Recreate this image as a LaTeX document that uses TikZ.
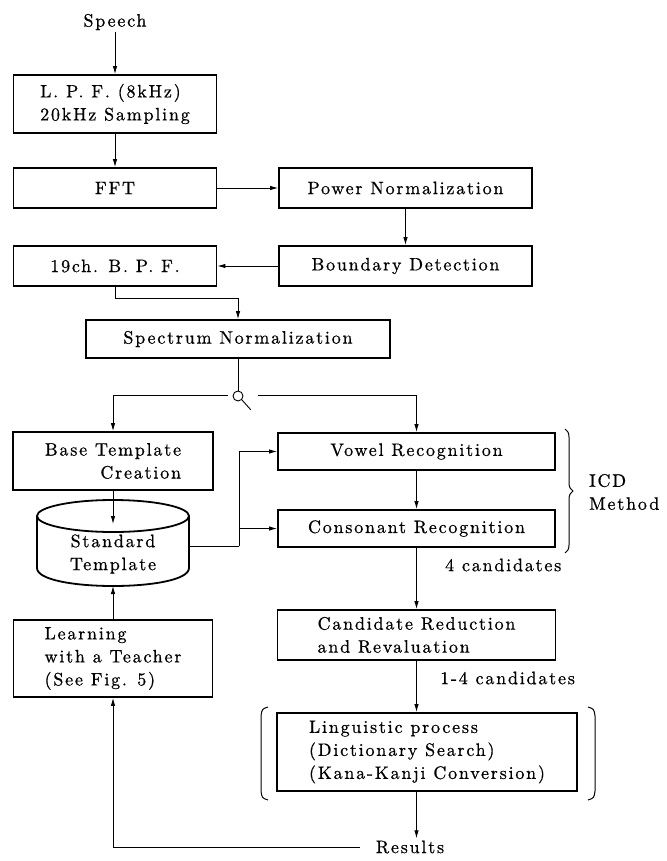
\documentclass[tikz,border=0pt]{standalone}
\usepackage{fontspec}
\newfontfamily\lmsp{lmroman10-regular.otf}[LetterSpace=10,FakeBold=0.7]
\usetikzlibrary{arrows.meta,decorations.pathreplacing}
\begin{document}
\begin{tikzpicture}[x=1pt,y=-1pt,
  txt/.style={font=\lmsp\fontsize{18}{23}\selectfont, inner sep=2pt},
  box/.style={txt, draw, line width=1.8pt, inner sep=0pt},
  ln/.style={line width=0.9pt},
  arr/.style={line width=0.9pt, -{Latex[length=8pt,width=4.5pt]}},
  brk/.style={line width=1pt}]
\useasboundingbox[fill=white] (0,0) rectangle (666,861);

% nodes
\node[txt] (speech) at (115,22) {Speech};
\node[box,minimum width=203pt,minimum height=58pt,align=left] (lpf) at (115,104) {L. P. F. (8kHz)\\20kHz Sampling};
\node[box,minimum width=203pt,minimum height=40pt] (fft) at (115,188) {FFT};
\node[box,minimum width=253pt,minimum height=40pt] (pow) at (405.5,188) {Power Normalization};
\node[box,minimum width=253pt,minimum height=40pt] (bnd) at (405.5,266) {Boundary Detection};
\node[box,minimum width=203pt,minimum height=40pt] (bpf) at (115,266) {19ch. B. P. F.};
\node[box,minimum width=304pt,minimum height=38pt] (spec) at (238,339) {Spectrum Normalization};
\node[circle,draw,ln,minimum size=10pt,inner sep=0pt] (sw) at (238,396) {};
\node[box,minimum width=200pt,minimum height=58pt,align=right] (base) at (113,461) {Base Template\\Creation};
\node[box,minimum width=277pt,minimum height=37pt] (vow) at (416.5,451.5) {Vowel Recognition};
\node[box,minimum width=277pt,minimum height=37pt] (con) at (416.5,528.5) {Consonant Recognition};
\node[box,minimum width=278pt,minimum height=50pt,align=left] (cand) at (416.5,635) {Candidate Reduction\\and Revaluation};
\node[box,minimum width=300pt,minimum height=78pt,align=left] (ling) at (427,752) {Linguistic process\\(Dictionary Search)\\(Kana-Kanji Conversion)};
\node[box,minimum width=199pt,minimum height=77pt,align=left] (learn) at (113,658.5) {Learning\\with a Teacher\\(See Fig. 5)};
\node[txt] (res) at (410,847) {Results};
\node[txt,anchor=west] (c4) at (443,565) {4 candidates};
\node[txt,anchor=west] (c14) at (438,678) {1-4 candidates};
\node[txt,anchor=west,align=left] (icd) at (587,492) {ICD\\Method};

% cylinder (Standard Template)
\draw[line width=1.8pt] (113,516) ellipse [x radius=76, y radius=16];
\draw[line width=1.8pt] (37,516) -- (37,568) .. controls (37,592) and (189,592) .. (189,568) -- (189,516);
\node[txt,fill=white,inner sep=1pt,align=center] (cyl) at (113,554) {Standard\\Template};
\coordinate (cylIn) at (113,524);
\coordinate (cylB) at (113,586);
\coordinate (cylR) at (189,546);
\coordinate (jn) at (239,546);
\coordinate (swL) at (228,395);
\coordinate (swR) at (258,395);

% connectors
\draw[arr] (speech.south) -- (lpf.north);
\draw[arr] (lpf.south) -- (fft.north);
\draw[arr] (fft.east) -- (pow.west);
\draw[arr] (pow.south) -- (bnd.north);
\draw[arr] (bnd.west) -- (bpf.east);
\draw[arr] (bpf.south) -- ++(0,12) -| (spec.north);
\draw[ln] (spec.south) -- (sw.north);
\draw[ln] (sw.south east) -- ++(9,10);
\draw[arr] (swL) -| (base.north);
\draw[arr] (swR) -| (vow.north);
\draw[arr] (base.south) -- (cylIn);
\draw[ln] (cylR) -- (jn);
\draw[arr] (jn) |- (vow.west);
\draw[arr] (jn |- con.west) -- (con.west);
\draw[arr] (vow.south) -- (con.north);
\draw[arr] (con.south) -- (cand.north);
\draw[arr] (cand.south) -- (cand.south |- ling.north);
\draw[arr] (ling.south -| cand.south) -- (res.north -| cand.south);
\draw[arr] ([xshift=-14pt]res.west) -| (learn.south);
\draw[arr] (learn.north) -- (cylB);

% brace and brackets
\draw[brk,decorate,decoration={brace,amplitude=8pt}] (565,429) -- (565,553);
\draw[brk] (268,707) .. controls (262,709) .. (261,716) -- (261,791) .. controls (262,798) .. (268,800);
\draw[brk] (588,707) .. controls (594,709) .. (595,716) -- (595,791) .. controls (594,798) .. (588,800);
\end{tikzpicture}
\end{document}
